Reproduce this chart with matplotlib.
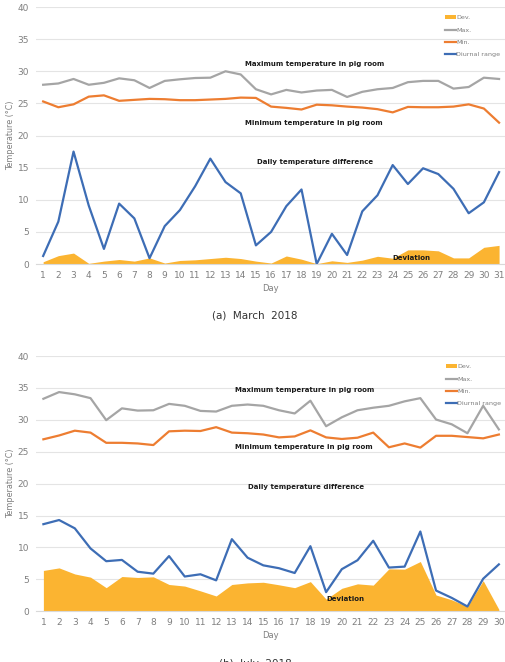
"""Daily pig-room temperatures: March 2018 (a) and July 2018 (b)."""
import matplotlib
matplotlib.use("Agg")
import matplotlib.pyplot as plt

# ---- data ----
mar_days = list(range(1, 32))
mar_max = [27.9, 28.1, 28.8, 27.9, 28.2, 28.9, 28.6, 27.4, 28.5, 28.75, 28.95, 29.0, 30.0, 29.5, 27.2,
           26.4, 27.1, 26.7, 27.0, 27.1, 26.0, 26.8, 27.2, 27.4, 28.3, 28.5, 28.5, 27.3, 27.55, 29.0, 28.8]
mar_min = [25.3, 24.4, 24.85, 26.05, 26.25, 25.4, 25.55, 25.7, 25.65, 25.5, 25.5, 25.6, 25.7, 25.9, 25.85,
           24.5, 24.3, 24.05, 24.8, 24.7, 24.5, 24.35, 24.1, 23.6, 24.45, 24.4, 24.4, 24.5, 24.85, 24.2, 22.0]
mar_range = [1.25, 6.6, 17.5, 9.1, 2.35, 9.4, 7.1, 0.9, 5.9, 8.4, 12.1, 16.4, 12.75, 11.0, 2.9,
             5.0, 9.0, 11.6, 0.0, 4.7, 1.4, 8.2, 10.7, 15.4, 12.45, 14.9, 14.0, 11.7, 7.9, 9.6, 14.3]
mar_dev = [0.35, 1.3, 1.7, 0.1, 0.45, 0.7, 0.45, 0.95, 0.15, 0.55, 0.65, 0.85, 1.05, 0.85, 0.45,
           0.15, 1.25, 0.75, 0.05, 0.5, 0.25, 0.6, 1.2, 0.9, 2.2, 2.2, 2.05, 0.95, 0.95, 2.6, 2.9]

jul_days = list(range(1, 31))
jul_max = [33.3, 34.35, 34.0, 33.4, 29.95, 31.8, 31.45, 31.5, 32.5, 32.2, 31.4, 31.3, 32.2, 32.4, 32.2,
           31.5, 31.0, 33.0, 29.0, 30.4, 31.5, 31.9, 32.2, 32.9, 33.4, 30.05, 29.3, 27.9, 32.2, 28.5]
jul_min = [26.95, 27.55, 28.3, 28.0, 26.4, 26.4, 26.3, 26.05, 28.2, 28.3, 28.25, 28.85, 28.0, 27.9, 27.7,
           27.25, 27.4, 28.35, 27.25, 27.0, 27.2, 28.0, 25.7, 26.3, 25.65, 27.5, 27.5, 27.3, 27.1, 27.7]
jul_range = [13.65, 14.3, 13.0, 9.85, 7.85, 8.05, 6.2, 5.9, 8.65, 5.45, 5.8, 4.85, 11.3, 8.4, 7.2,
             6.75, 6.0, 10.2, 3.0, 6.6, 8.0, 11.05, 6.85, 7.0, 12.5, 3.25, 2.1, 0.75, 5.1, 7.35]
jul_dev = [6.4, 6.8, 5.85, 5.35, 3.7, 5.45, 5.3, 5.4, 4.2, 3.95, 3.2, 2.4, 4.2, 4.45, 4.55,
           4.15, 3.7, 4.65, 1.9, 3.6, 4.3, 4.1, 6.65, 6.6, 7.8, 2.55, 1.8, 0.75, 4.8, 0.3]

C_DEV, C_MAX, C_MIN, C_RNG = "#FBB431", "#A5A5A5", "#ED7D31", "#3D6DB5"
TXT = "#7F7F7F"

fig = plt.figure(figsize=(5.05, 6.62), dpi=100)


def panel(rect, days, mx, mn, rng, dev, notes, leg_anchor):
    ax = fig.add_axes(rect)
    ax.fill_between(days, dev, 0, color=C_DEV, lw=0, label="Dev.")
    ax.plot(days, mx, color=C_MAX, lw=1.6, label="Max.")
    ax.plot(days, mn, color=C_MIN, lw=1.6, label="Min.")
    ax.plot(days, rng, color=C_RNG, lw=1.6, label="Diurnal range")
    ax.set_ylim(0, 40)
    ax.set_yticks(range(0, 41, 5))
    ax.set_xlim(days[0] - 0.47, days[-1] + 0.4)
    ax.set_xticks(days)
    ax.grid(axis="y", color="#E4E4E4", lw=0.8)
    ax.set_axisbelow(True)
    for s in ax.spines.values():
        s.set_visible(False)
    ax.spines["bottom"].set_visible(True)
    ax.spines["bottom"].set_color("#D9D9D9")
    ax.tick_params(length=0, labelsize=6.5, labelcolor=TXT, pad=5)
    ax.set_xlabel("Day", fontsize=6, color=TXT, labelpad=3)
    ax.set_ylabel("Temperature (°C)", fontsize=5.8, color=TXT, labelpad=2)
    for x, y, t in notes:
        ax.text(x, y, t, fontsize=5.0, fontweight="bold", va="center", ha="left", color="#1a1a1a")
    ax.legend(loc="upper left", bbox_to_anchor=leg_anchor, frameon=False, fontsize=4.6,
              labelcolor=TXT, handlelength=1.6, handleheight=0.4, handletextpad=0.1,
              labelspacing=1.15, borderpad=0)
    return ax


panel([0.0713, 0.6012, 0.929, 0.3882], mar_days, mar_max, mar_min, mar_range, mar_dev,
      [(14.3, 31.1, "Maximum temperature in pig room"),
       (14.3, 22.0, "Minimum temperature in pig room"),
       (15.1, 15.9, "Daily temperature difference"),
       (24.0, 0.9, "Deviation")],
      (0.866, 0.98))

panel([0.0713, 0.0766, 0.929, 0.3856], jul_days, jul_max, jul_min, jul_range, jul_dev,
      [(13.2, 34.7, "Maximum temperature in pig room"),
       (13.2, 25.7, "Minimum temperature in pig room"),
       (14.0, 19.5, "Daily temperature difference"),
       (19.0, 1.9, "Deviation")],
      (0.868, 0.98))

fig.text(0.505, 1 - 315 / 662, "(a)  March  2018", ha="center", va="center", fontsize=7.5, color="#333333")
fig.text(0.505, 1 - 664 / 662, "(b)  July  2018", ha="center", va="center", fontsize=7.5, color="#333333")

fig.savefig("out.png", dpi=100)
